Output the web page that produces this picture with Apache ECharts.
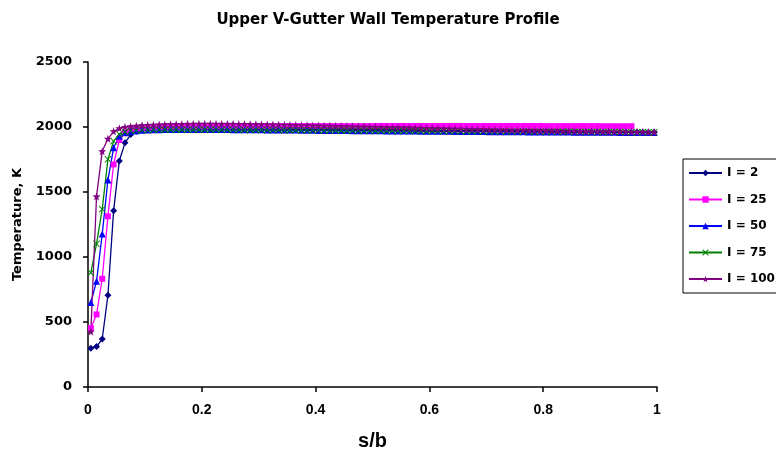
<!DOCTYPE html>
<html>
<head>
<meta charset="utf-8">
<script src="https://cdn.jsdelivr.net/npm/echarts@6/dist/echarts.min.js"></script>
<style>
  html, body { margin: 0; padding: 0; background: #fff; }
  #chart { width: 776px; height: 456px; }
</style>
</head>
<body>
<div id="chart"></div>
<script>
// Wall position along the gutter, s/b
const sOverB = [
  0.005, 0.015, 0.025, 0.035, 0.045, 0.055, 0.065, 0.075, 0.085, 0.095,
  0.105, 0.115, 0.125, 0.135, 0.145, 0.155, 0.165, 0.175, 0.185, 0.195,
  0.205, 0.215, 0.225, 0.235, 0.245, 0.255, 0.265, 0.275, 0.285, 0.295,
  0.305, 0.315, 0.325, 0.335, 0.345, 0.355, 0.365, 0.375, 0.385, 0.395,
  0.405, 0.415, 0.425, 0.435, 0.445, 0.455, 0.465, 0.475, 0.485, 0.495,
  0.505, 0.515, 0.525, 0.535, 0.545, 0.555, 0.565, 0.575, 0.585, 0.595,
  0.605, 0.615, 0.625, 0.635, 0.645, 0.655, 0.665, 0.675, 0.685, 0.695,
  0.705, 0.715, 0.725, 0.735, 0.745, 0.755, 0.765, 0.775, 0.785, 0.795,
  0.805, 0.815, 0.825, 0.835, 0.845, 0.855, 0.865, 0.875, 0.885, 0.895,
  0.905, 0.915, 0.925, 0.935, 0.945, 0.955, 0.965, 0.975, 0.985, 0.995
];

// Wall temperature, K
const tempI2 = [
  298, 311, 369, 706, 1355, 1738, 1878, 1942, 1966, 1976,
  1981, 1984, 1986, 1987, 1988, 1989, 1989, 1990, 1990, 1990,
  1989, 1989, 1989, 1988, 1988, 1988, 1987, 1987, 1987, 1986,
  1986, 1986, 1985, 1985, 1985, 1984, 1984, 1983, 1983, 1983,
  1982, 1982, 1981, 1981, 1980, 1980, 1980, 1979, 1979, 1978,
  1978, 1977, 1977, 1976, 1976, 1975, 1975, 1975, 1974, 1974,
  1973, 1973, 1972, 1972, 1972, 1971, 1971, 1970, 1970, 1970,
  1969, 1969, 1968, 1968, 1968, 1967, 1967, 1967, 1966, 1966,
  1966, 1965, 1965, 1965, 1964, 1964, 1964, 1963, 1963, 1963,
  1962, 1962, 1962, 1961, 1961, 1961, 1960, 1960, 1960, 1959
];
const tempI25 = [
  453, 558, 833, 1313, 1712, 1900, 1955, 1978, 1988, 1994,
  1998, 2000, 2002, 2003, 2004, 2005, 2005, 2006, 2006, 2006,
  2006, 2006, 2006, 2006, 2006, 2006, 2006, 2006, 2006, 2006,
  2006, 2006, 2006, 2006, 2006, 2007, 2007, 2007, 2007, 2007,
  2007, 2007, 2007, 2007, 2007, 2007, 2007, 2007, 2007, 2007,
  2008, 2008, 2008, 2008, 2008, 2008, 2008, 2008, 2008, 2008,
  2008, 2008, 2008, 2008, 2008, 2008, 2008, 2008, 2008, 2008,
  2008, 2008, 2008, 2008, 2008, 2008, 2008, 2008, 2008, 2008,
  2007, 2007, 2007, 2007, 2007, 2007, 2007, 2007, 2007, 2007,
  2006, 2006, 2006, 2006, 2006, 2006
];
const tempI50 = [
  650, 813, 1177, 1592, 1840, 1929, 1955, 1966, 1972, 1975,
  1977, 1978, 1979, 1980, 1980, 1981, 1981, 1981, 1981, 1981,
  1981, 1980, 1980, 1980, 1980, 1979, 1979, 1979, 1978, 1978,
  1978, 1977, 1977, 1977, 1976, 1976, 1976, 1975, 1975, 1975,
  1974, 1974, 1974, 1973, 1973, 1973, 1972, 1972, 1972, 1971,
  1971, 1971, 1970, 1970, 1970, 1969, 1969, 1969, 1968, 1968,
  1968, 1967, 1967, 1967, 1966, 1966, 1966, 1965, 1965, 1965,
  1964, 1964, 1964, 1963, 1963, 1963, 1963, 1962, 1962, 1962,
  1962, 1961, 1961, 1961, 1961, 1960, 1960, 1960, 1960, 1959,
  1959, 1959, 1959, 1958, 1958, 1958, 1958, 1957, 1957, 1957
];
const tempI75 = [
  879, 1101, 1368, 1751, 1891, 1945, 1962, 1970, 1974, 1976,
  1977, 1978, 1978, 1979, 1979, 1979, 1979, 1979, 1979, 1979,
  1979, 1978, 1978, 1978, 1978, 1978, 1977, 1977, 1977, 1977,
  1976, 1976, 1976, 1976, 1975, 1975, 1975, 1975, 1974, 1974,
  1974, 1974, 1973, 1973, 1973, 1973, 1972, 1972, 1972, 1972,
  1971, 1971, 1971, 1971, 1970, 1970, 1970, 1970, 1969, 1969,
  1969, 1969, 1968, 1968, 1968, 1968, 1967, 1967, 1967, 1967,
  1966, 1966, 1966, 1966, 1965, 1965, 1965, 1965, 1964, 1964,
  1964, 1964, 1963, 1963, 1963, 1963, 1962, 1962, 1962, 1962,
  1961, 1961, 1961, 1961, 1960, 1960, 1960, 1960, 1959, 1959
];
const tempI100 = [
  426, 1466, 1814, 1909, 1967, 1990, 2000, 2006, 2010, 2013,
  2015, 2017, 2019, 2020, 2021, 2022, 2023, 2024, 2024, 2025,
  2025, 2025, 2025, 2024, 2024, 2024, 2023, 2023, 2022, 2022,
  2021, 2020, 2019, 2018, 2017, 2016, 2015, 2014, 2013, 2012,
  2011, 2010, 2009, 2008, 2007, 2006, 2005, 2004, 2003, 2002,
  2001, 2000, 1999, 1998, 1997, 1996, 1995, 1994, 1993, 1992,
  1991, 1990, 1989, 1988, 1987, 1986, 1985, 1984, 1983, 1982,
  1981, 1980, 1979, 1978, 1977, 1976, 1975, 1975, 1974, 1973,
  1972, 1972, 1971, 1970, 1970, 1969, 1968, 1968, 1967, 1967,
  1966, 1966, 1965, 1965, 1964, 1964, 1963, 1963, 1962, 1962
];

const seriesNames = ['I = 2', 'I = 25', 'I = 50', 'I = 75', 'I = 100'];
const seriesTemps = [tempI2, tempI25, tempI50, tempI75, tempI100];
const xTicks = [0, 0.2, 0.4, 0.6, 0.8, 1];
const yTicks = [0, 500, 1000, 1500, 2000, 2500];

const colors = ['#000080', '#FF00FF', '#0000FF', '#008000', '#800080'];
const crossPath = 'path://M0,1L1,0L5,4L9,0L10,1L6,5L10,9L9,10L5,6L1,10L0,9L4,5Z';
const starPath = 'path://M5,0L6.2,3.5L10,3.6L7,5.9L8.1,9.5L5,7.4L1.9,9.5L3,5.9L0,3.6L3.8,3.5Z';
const symbols = ['diamond', 'rect', 'triangle', crossPath, starPath];
const symbolSizes = [7, 6, 7, 7, 8];

const chart = echarts.init(document.getElementById('chart'), null, { renderer: 'canvas' });

const series = seriesNames.map((name, k) => ({
  name: name,
  type: 'line',
  data: seriesTemps[k].map((t, i) => [sOverB[i], t]),
  symbol: symbols[k],
  symbolSize: symbolSizes[k],
  showSymbol: true,
  showAllSymbol: true,
  lineStyle: { color: colors[k], width: 1.3 },
  itemStyle: { color: colors[k] },
  animation: false,
  emphasis: { disabled: true }
}));

chart.setOption({
  animation: false,
  backgroundColor: '#ffffff',
  title: {
    text: 'Upper V-Gutter Wall Temperature Profile',
    left: 'center',
    top: 8,
    textStyle: { fontFamily: 'DejaVu Sans', fontWeight: 'bold', fontSize: 15, color: '#000' }
  },
  grid: { left: 88, right: 119, top: 62, bottom: 67 },
  legend: {
    orient: 'vertical',
    left: 683,
    top: 159,
    data: seriesNames,
    itemWidth: 33,
    itemHeight: 8,
    itemGap: 12.5,
    padding: [7, 10, 7, 5],
    borderColor: '#000',
    borderWidth: 1,
    textStyle: { fontFamily: 'DejaVu Sans', fontWeight: 'bold', fontSize: 12, color: '#000', lineHeight: 14 }
  },
  xAxis: {
    type: 'value',
    min: xTicks[0],
    max: xTicks[xTicks.length - 1],
    interval: 0.2,
    name: 's/b',
    nameLocation: 'middle',
    nameGap: 44,
    nameTextStyle: { fontFamily: 'Liberation Sans', fontWeight: 'bold', fontSize: 20, color: '#000' },
    axisLine: { show: true, lineStyle: { color: '#000', width: 1.5 } },
    axisTick: { show: true, length: 5, lineStyle: { color: '#000', width: 1.5 } },
    axisLabel: { margin: 16, fontFamily: 'Liberation Sans', fontWeight: 'bold', fontSize: 14, color: '#000' },
    splitLine: { show: false }
  },
  yAxis: {
    type: 'value',
    min: yTicks[0],
    max: yTicks[yTicks.length - 1],
    interval: 500,
    name: 'Temperature, K',
    nameLocation: 'middle',
    nameGap: 64,
    nameTextStyle: { fontFamily: 'DejaVu Sans', fontWeight: 'bold', fontSize: 13, color: '#000' },
    axisLine: { show: true, lineStyle: { color: '#000', width: 1.5 } },
    axisTick: { show: true, length: 5, lineStyle: { color: '#000', width: 1.5 } },
    axisLabel: {
      margin: 16, fontFamily: 'DejaVu Sans', fontWeight: 'bold', fontSize: 13, color: '#000',
      formatter: v => String(v)
    },
    splitLine: { show: false }
  },
  series: series
});
</script>
</body>
</html>
